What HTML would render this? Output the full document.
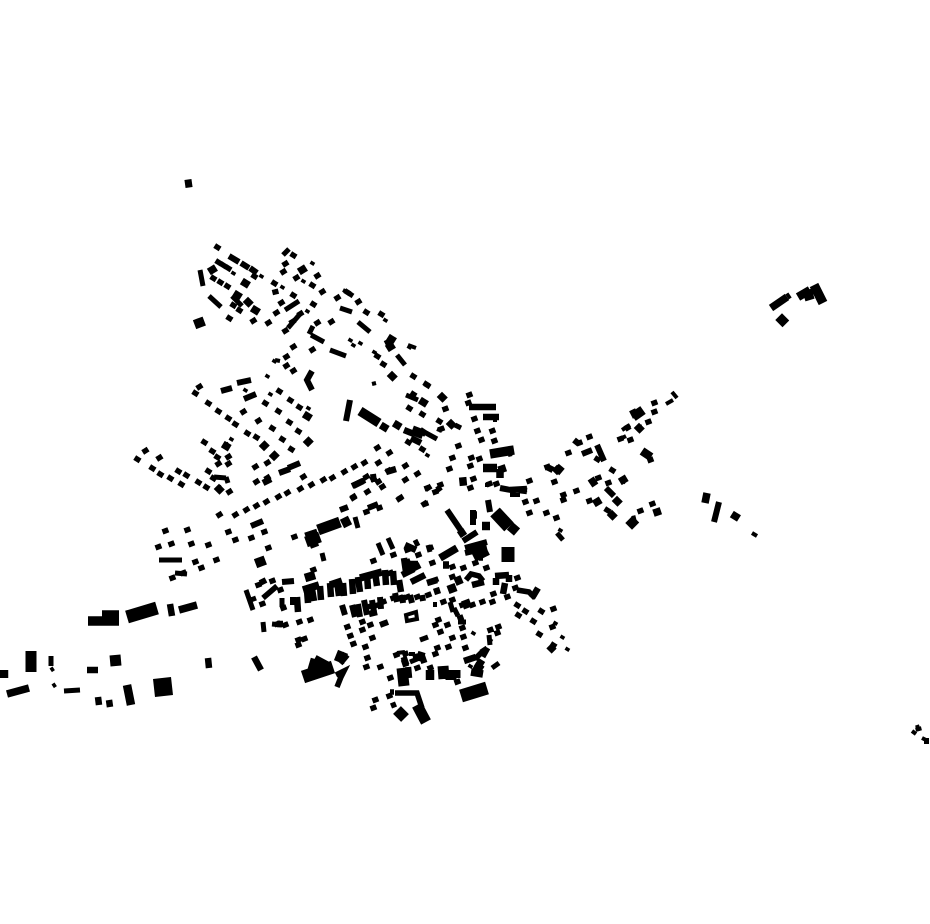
<!DOCTYPE html>
<html><head><meta charset="utf-8"><title>Building footprint map</title>
<style>html,body{margin:0;padding:0;background:#fff}svg{display:block}path{fill:none;stroke:#000}.q{stroke-linecap:square}</style>
</head><body>
<svg width="930" height="924" viewBox="0 0 930 924" xmlns="http://www.w3.org/2000/svg">
<rect width="930" height="924" fill="#fff"/>
<path class="q" stroke-width="5.4" d="M217 247l.8.5M223 265l.8.5M218 262l.8.5M228 268l.8.5M254 276l.8.5M213 278l.8.5M220 282l.8.5M227 286l.8.5M233 305l.8.5M239 310l.8.5M229 318l.8.5M293 255l.8.5M274 283l.8.5M312 285l.8.5M293 295l.8.5M313 304l.8.5M347 292l.8.5M366 312l.8.5M381 314l.8.5M377 356l.8.5M383 364l.8.5M413 376l.8.5M426 384l.8.5M195 393l.8.5M208 403l.8.5M265 403l.8.5M279 391l.8.5M290 400l.8.5M299 407l.8.5M278 411l.8.5M289 422l.8.5M298 431l.8.5M272 428l.8.5M282 439l.8.5M291 449l.8.5M218 411l.8.5M228 418l.8.5M235 424l.8.5M247 433l.8.5M256 437l.8.5M204 442l.8.5M212 451l.8.5M217 457l.8.5M208 471l.8.5M213 478l.8.5M137 459l.8.5M152 468l.8.5M160 474l.8.5M170 478l.8.5M178 471l.8.5M186 475l.8.5M181 484l.8.5M198 482l.8.5M206 487l.8.5M427 385l.8.5M442 397l.8.5M413 394l.8.5M423 402l.8.5M409 408l.8.5M422 414l.8.5M439 421l.8.5M451 424l.8.5M422 449l.8.5M408 442l.8.5M612 470l.8.5M623 480l.8.5M617 501l.8.5M597 459l.8.5M612 515l.8.5M607 510l.8.5M539 634l.8.5M553 645l.8.5M533 621l.8.5M525 611l.8.5M517 605l.8.5M518 615l.8.5M541 611l.8.5M480 667l.8.5"/>
<path class="q" stroke-width="3.6" d="M261 276l.8.5M233 273l.8.5M312 263l.8.5M303 281l.8.5M282 287l.8.5M307 311l.8.5M353 345l.8.5M360 343l.8.5M374 352l.8.5M409 347l.8.5M245 390l.8.5M270 394l.8.5M308 408l.8.5M274 361l.8.5M267 376l.8.5M231 439l.8.5M350 340l.8.5M427 455l.8.5M385 320l.8.5M555 623l.8.5M567 649l.8.5M562 637l.8.5M473 633l.8.5M490 640l.8.5M470 666l.8.5M560 530l.8.5M52 669l.4.6M54 685l.4.6"/>
<path class="q" stroke-width="5.4" d="M285 264l.8-.5M283 272l.8-.5M296 278l.8-.5M317 276l.8-.5M322 292l.8-.5M275 292l.8-.2M276 313l.8-.5M281 303l.8-.5M285 331l.8-.5M300 314l.8-.5M292 322l.8-.5M253 321l.8-.5M268 323l.8-.5M337 298l.8-.5M358 302l.8-.5M331 322l.8-.5M317 323l.8-.5M286 357l.8-.5M286 366l.8-.5M293 371l.8-.5M312 350l.8-.5M293 347l.8-.5M199 387l.8-.5M243 412l.8-.5M258 421l.8-.5M264 446l.8-.5M274 456l.8-.5M226 446l.8-.5M228 457l.8-.5M228 464l.8-.5M218 464l.8-.5M229 492l.8-.5M219 489l.8-.5M255 467l.8-.5M267 463l.8-.5M303 477l.8-.5M267 478l.8-.5M256 482l.8-.5M145 451l.8-.5M159 458l.8-.5M287 493l.8-.5M300 489l.8-.5M311 485l.8-.5M323 480l.8-.5M332 478l.8-.5M344 472l.8-.5M354 467l.8-.5M364 463l.8-.5M378 463l.8-.5M377 448l.8-.5M389 453l.8-.5M405 466l.8-.5M388 471l.8-.5M373 479l.8-.5M367 492l.8-.5M382 487l.8-.5M405 480l.8-.5M417 474l.8-.5M353 497l.8-.5M400 498l.8-.5M428 488l.8-.5M219 515l.8-.5M235 515l.8-.5M246 510l.8-.5M256 506l.8-.5M266 502l.8-.5M278 497l.8-.5M353 498l.8-.5M366 477l.8-.5M378 482l.8-.5M399 499l.8-.5M424 504l.8-.5M165 531l.8-.3M187 530l.8-.3M158 547l.8-.3M171 544l.8-.3M191 544l.8-.3M208 545l.8-.3M195 562l.8-.3M216 560l.8-.3M201 568l.8-.3M183 573l.8-.3M172 578l.8-.3M228 532l.8-.3M264 532l.8-.3M251 538l.8-.3M235 540l.8-.3M268 548l.8-.3M294 537l.8-.3M313 570l.8-.3M366 512l.8-.3M379 508l.8-.3M373 561l.8-.3M393 555l.8-.3M468 403l.8-.3M469 395l.8-.3M474 419l.8-.3M492 431l.8-.3M477 431l.8-.3M481 440l.8-.3M494 441l.8-.3M452 458l.8-.3M449 469l.8-.3M427 488l.8-.3M440 485l.8-.3M435 492l.8-.3M425 504l.8-.3M479 459l.8-.3M471 458l.8-.3M470 466l.8-.3M473 479l.8-.3M470 488l.8-.3M489 484l.8-.3M496 484l.8-.3M529 481l.8-.3M554 482l.8-.3M525 502l.8-.3M536 501l.8-.3M563 495l.8-.3M563 500l.8-.3M576 491l.8-.3M529 513l.8-.3M546 513l.8-.3M556 518l.8-.3M568 453l.8-.3M589 437l.8-.3M579 443l.8-.3M598 478l.8-.3M608 483l.8-.3M597 502l.8-.3M589 501l.8-.3M620 439l.8-.3M630 440l.8-.3M648 422l.8-.3M639 428l.8-.3M654 412l.8-.3M654 403l.8-.3M650 460l.8-.3M640 511l.8-.3M652 504l.8-.3M657 512l.8-.3M258 585l.8-.3M272 581l.8-.3M280 590l.8-.3M262 604l.8-.3M283 608l.8-.3M277 624l.8-.3M285 625l.8-.3M310 620l.8-.3M299 622l.8-.3M298 640l.8-.3M304 639l.8-.3M298 645l.8-.3M347 627l.8-.3M350 636l.8-.3M353 644l.8-.3M365 647l.8-.3M372 638l.8-.3M362 630l.8-.3M370 625l.8-.3M362 622l.8-.3M355 612l.8-.3M368 607l.8-.3M375 606l.8-.3M383 602l.8-.3M393 598l.8-.3M400 598l.8-.3M407 597l.8-.3M417 597l.8-.3M428 595l.8-.3M435 625l.8-.3M447 625l.8-.3M460 618l.8-.3M438 620l.8-.3M440 632l.8-.3M462 628l.8-.3M452 638l.8-.3M463 637l.8-.3M490 630l.8-.3M498 627l.8-.3M497 633l.8-.3M437 648l.8-.3M448 647l.8-.3M435 654l.8-.3M465 648l.8-.3M367 658l.8-.3M366 667l.8-.3M380 667l.8-.3M396 655l.8-.3M405 654l.8-.3M417 668l.8-.3M430 668l.8-.3M457 682l.8-.3M390 678l.8-.3M389 696l.8-.3M375 700l.8-.3M373 708l.8-.3M432 563l.8-.3M452 567l.8-.3M463 568l.8-.3M475 563l.8-.3M486 568l.8-.3M407 550l.8-.3M393 555l.8-.3M418 555l.8-.3M430 548l.8-.3M407 562l.8-.3M435 580l.8-.3M452 577l.8-.3M390 573l.8-.3M517 578l.8-.3M515 588l.8-.3M493 594l.8-.3M507 597l.8-.3M553 609l.8-.3M552 627l.8-.3M482 602l.8-.3M492 602l.8-.3M472 605l.8-.3M462 605l.8-.3M452 600l.8-.3M443 602l.8-.3M445 409l.8-.3M441 429l.8-.3M458 446l.8-.3M547 467l.8-.3"/>
<path class="q" stroke-width="7.5" d="M212 270l.8-.5M245 283l.8.5M237 295l.8.5M248 302l.5.5M255 310l.8.5M302 270l.8-.5M391 339l.8.5M390 347l.8-.5M392 376l.5.5M397 425l.5.3M384 427l.5.3M307 416l.8.5M308 442l.5-.5M264 446l.5-.5M274 456l.5-.5M226 446l.5.3M219 489l.5.5M423 402l.8.5M451 424l.5.5M442 397l.5.5M502 469l.3-.1M557 470l.1-.1M623 480l.5-.3M463 481l.1 1M617 501l.5.5M612 515l.5.5M597 502l.5-.3M632 523l.5-.5M657 512l.3-.1M639 428l.5.5M782 320l.5.5M735 516l.8.5"/>
<path class="q" stroke-width="9.5" d="M199 323l.8-.3M260 562l.8-.3M782 320l.5.5M632 523l.5-.5"/>
<path stroke-width="4" d="M275 360l5 1M343 290l6 3M408 345l8 3M372 384l4-1M437 429l5 2M397 653l8-1M409 654l6 0M435 602l0 5M508 455l4-1M493 420l4 0M485 485l3 0M510 495l10 0M620 439l6-3M622 430l8-5M752 533l5 3M917 725l2 6M672 392l5 6M666 404l7-4"/>
<path stroke-width="5" d="M200 270l3 16M209 296l12 11M232 296l10 10M340 308l12 4M313 326l-4 8M311 335l13 7M330 350l16 6M386 340l4 8M397 355l8 10M358 322l12 10M347 292l6 4M413 428l13 5M426 433l11 6M406 395l12 5M455 425l6 3M285 310l14-9M288 328l12-14M283 255l6-6M51 656l0 10M64 691l16-1M214 477l12 1M226 477l2 6M159 560l23 0M175 573l12 1M246 590l7 20M248 601l8-3M263 622l1 10M272 624l10 1M282 598l0 9M322 553l2 8M355 517l3 11M388 538l5 11M415 540l3 6M428 545l2 7M378 543l5 12M420 640l8-3M410 662l12-5M490 645l-1-10M481 652l6-4M488 648l-5 9M492 668l7-5M454 608l4 8M458 622l8 0M450 602l3 10M557 533l6 7"/>
<path stroke-width="6" d="M229 256l10 6M241 263l8 5M250 268l7 5M237 383l14-3M244 399l12-5M221 391l11-3M346 421l4-21M290 469l-11 4M288 468l12-5M352 486l13-6M373 474l1 8M340 510l8-3M368 508l10-4M251 526l12-5M310 546l8-3M266 580l-6 3M282 582l12-1M437 490l4-3M473 510l0 15M488 500l2 12M500 488l16 3M597 445l7 16M592 450l-10 4M579 444l-5-4M625 429l5-3M606 488l8 8M632 519l4-1M714 522l5-20M787 297l3-2M293 605l0-8M345 615l-3-10M352 605l3 12M358 604l2 13M364 600l3 15M372 600l2 12M380 597l1 12M380 625l8-3M395 593l2 9M410 595l2 8M402 595l1 8M422 595l1 6M447 510l15 22M463 541l14-9M465 548l22-6M465 553l22-5"/>
<path stroke-width="6.5" d="M469 407h27M483 417h16M404 430l10 4M420 430l6 4M411 438l10 5M263 483l8-4M353 486l10-5M386 472l10-3M510 490l17-1M547 467l6 3M519 490l8 1M170 604l2 12M254 657l7 13M409 678l-1-11M208 658l1 10M98 697l1 8M109 700l1 7M87 670l11 0M277 624l6 0M369 614l8-2M464 661l12-4M505 583l-2 11M532 598l6-10M297 597l1 15M307 590l1 13M312 589l2 12M320 586l1 14M330 583l1 14M337 581l2 15M343 583l1 13M352 579l1 15M358 577l2 15M367 574l1 15M375 572l2 14M385 570l1 15M393 571l1 14M404 558l2 14M402 575l12-6M411 582l14-7M437 580l-10 3M399 580l2 12M420 565l-8 4M405 545l11 5M440 590l-6 2M472 585l12-3M496 578l0 7M509 575l0 7M495 576l14-1"/>
<path stroke-width="7.5" d="M771 308l16-11M7 694l22-6M179 610l18-5M705 503l2-10M500 469l0 9M303 590l16-5M330 585l12-4M360 578l22-6M402 664l6-2M413 658l10-2M422 652l-3 9M471 672l12 2M482 660l-5 8M549 651l5-5M440 558l17-10M460 530l4 6M443 565l6 0M473 515h4M479 557l4 0"/>
<path stroke-width="8.5" d="M798 297l12-7M4 670l0 8M127 685l4 20M413 431l10 4M637 412l-6 3M642 451l9 6M556 467l6 5M596 480l-6 4M483 468l14 0M408 565l10 0M474 558l14-7M448 590l8-3M455 582l7-3M305 578l10-3M430 670l0 10M408 660l-6 2M476 671l4-7M482 526l8 0M465 600l3 8M420 660l6-2"/>
<path stroke-width="9.5" d="M88 621h31M102 615h17M360 411l19 12M490 454l24-4M814 285l9 18M807 290l3 10M633 417l10-7M510 526l7 6M350 520l-8 4"/>
<path stroke-width="11" d="M306 542l14-5M31 651v21M115 655l1 11M340 656l6 5M417 705l9 17M402 668l2 18M397 710l8 8M314 660l15 8M316 668l8 3M443 666l1 13M451 670l0 10M336 655l10 4M455 670l0 8M306 538l12-4M318 530l22-8"/>
<path stroke-width="13" d="M127 617l30-9M495 512l14 15M303 677l30-10M461 696l26-8M309 664l17 5M508 547v15"/>
<path stroke-width="18" d="M154 688l18-2"/>
<path stroke-width="4" d="M416 612l-10 3 1 6 10-2z M922 738l6 3M912 731l4 3"/>
<path stroke-width="6" d="M312 371l-5 9 5 10M924 741l5 0M918 727l1 4"/>
<path stroke-width="8" d="M185 184l7-1"/>
<path stroke-width="5.5" d="M395 693h22l5 15M390 692l4 0M391 706l5-2M336 675l8-4-3 6-4 10M466 580l5-6 8 2 4 5M517 590l12 2 6 6M482 652l-7 7M263 598l14-12"/>
</svg>
</body></html>
